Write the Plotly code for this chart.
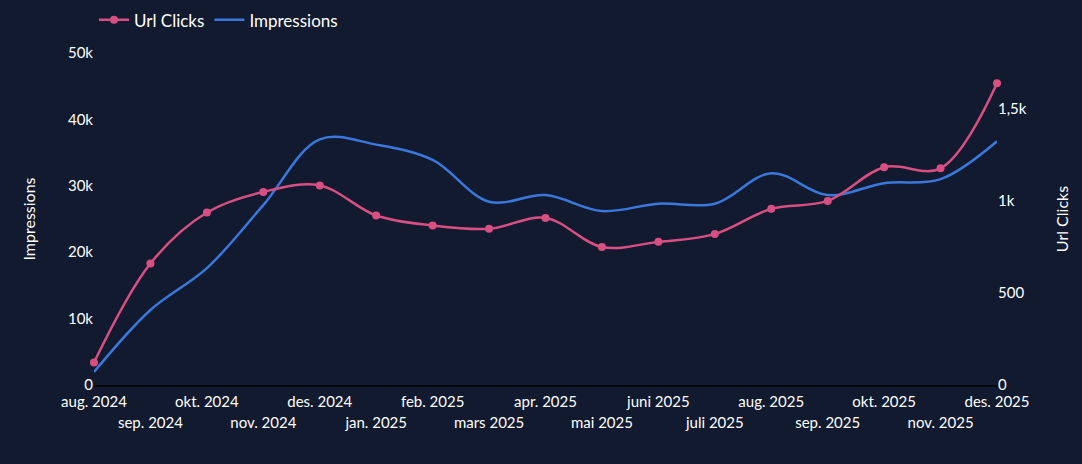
import plotly.graph_objects as go

months = ["aug. 2024", "sep. 2024", "okt. 2024", "nov. 2024", "des. 2024", "jan. 2025",
          "feb. 2025", "mars 2025", "apr. 2025", "mai 2025", "juni 2025", "juli 2025",
          "aug. 2025", "sep. 2025", "okt. 2025", "nov. 2025", "des. 2025"]
url_clicks = [122, 659, 935, 1047, 1082, 919, 865, 847, 906, 748, 776, 818, 955, 998, 1181, 1175, 1636]
impressions = [1960, 11300, 17600, 27100, 37000, 36200, 33900, 27600, 28600, 26200, 27300, 27300,
               31900, 28600, 30400, 31000, 36700]

BG = "#111a2e"
PINK = "#d94f83"
BLUE = "#3a78dd"
FONT = "Lato"

fig = go.Figure()
fig.add_trace(go.Scatter(
    x=months, y=impressions, name="Impressions", yaxis="y",
    mode="lines", line=dict(color=BLUE, width=2.5, shape="spline", smoothing=1),
    cliponaxis=False,
))
fig.add_trace(go.Scatter(
    x=months, y=url_clicks, name="Url Clicks", yaxis="y2",
    mode="lines+markers", line=dict(color=PINK, width=2.5, shape="spline", smoothing=1),
    marker=dict(size=8, color=PINK), cliponaxis=False,
))
# carrier trace for the second row of month labels
fig.add_trace(go.Scatter(
    x=months, y=[None] * len(months), xaxis="x2", yaxis="y",
    mode="lines", showlegend=False, hoverinfo="skip",
))

even = months[0::2]
odd = months[1::2]

fig.update_layout(
    width=1082, height=464,
    paper_bgcolor=BG, plot_bgcolor=BG,
    font=dict(family=FONT, color="#ffffff", size=15),
    separators=",.",
    margin=dict(l=94, r=85, t=53, b=79, autoexpand=False),
    showlegend=True,
    legend=dict(orientation="h", x=0.0, y=0.995, xanchor="left", yanchor="top",
                yref="container", font=dict(size=17, color="#ffffff"),
                bgcolor="rgba(0,0,0,0)", itemwidth=30, traceorder="reversed"),
    xaxis=dict(type="category", categoryorder="array", categoryarray=months,
               range=[0, len(months) - 1], tickvals=even, ticks="", showgrid=False,
               showline=True, linecolor="#05070c", linewidth=2, zeroline=False,
               tickfont=dict(size=15, color="#ffffff"), ticklabelstandoff=2),
    xaxis2=dict(type="category", categoryorder="array", categoryarray=months,
                range=[0, len(months) - 1], overlaying="x", anchor="y", side="bottom",
                tickvals=odd, ticks="", showgrid=False, showline=False, zeroline=False,
                tickfont=dict(size=15, color="#ffffff"), ticklabelstandoff=27),
    yaxis=dict(title=dict(text="Impressions", font=dict(size=16), standoff=28),
               range=[0, 50000], dtick=10000, tickformat="~s", showgrid=False,
               zeroline=False, showline=False, ticks="", tickfont=dict(size=15)),
    yaxis2=dict(title=dict(text="Url Clicks", font=dict(size=16), standoff=30),
                range=[0, 1800], tickvals=[0, 500, 1000, 1500], tickformat="~s",
                overlaying="y", side="right", showgrid=False, zeroline=False,
                showline=False, ticks="", tickfont=dict(size=15)),
)

fig.write_html("out.html")
